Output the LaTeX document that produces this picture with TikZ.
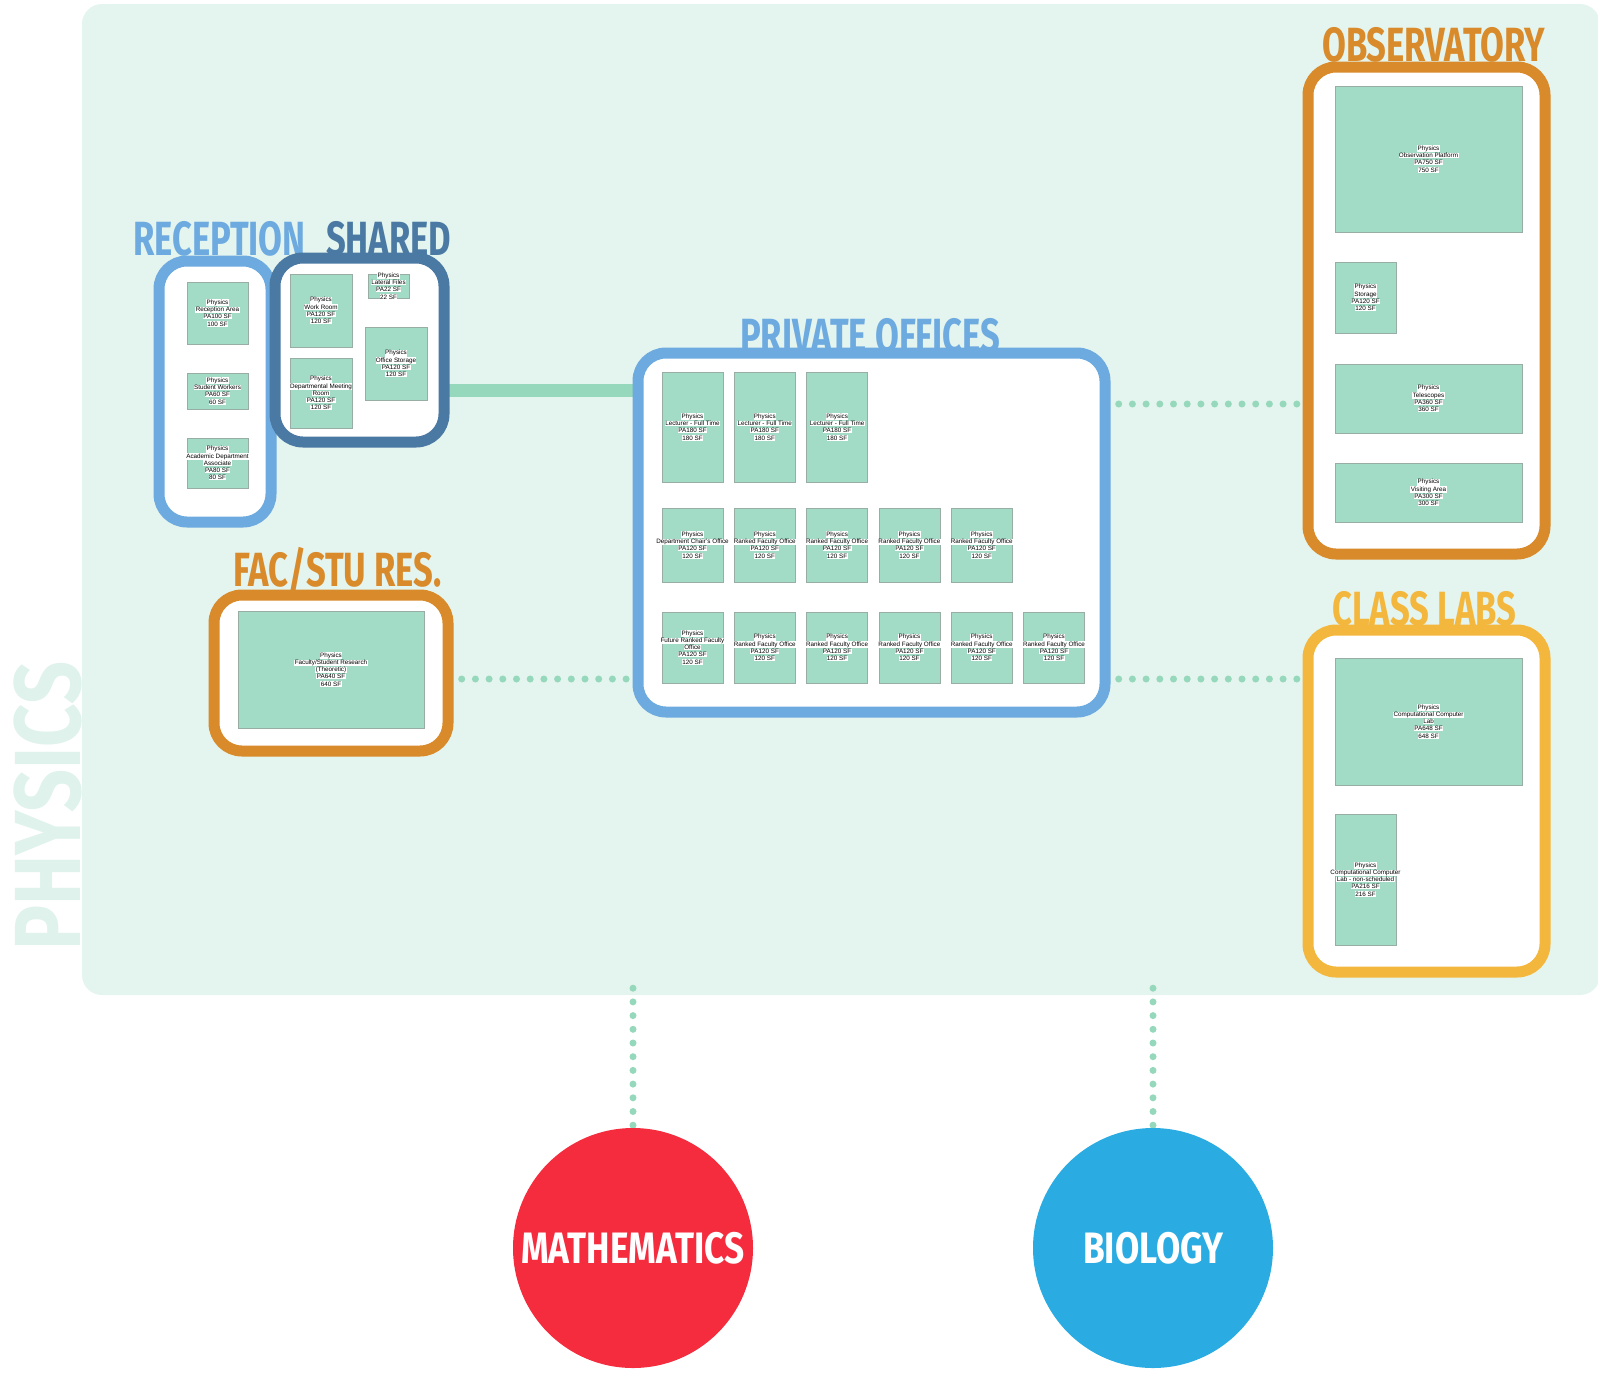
\documentclass[tikz,border=0pt]{standalone}
\usepackage{fontspec}
\setmainfont{Liberation Sans}
\newfontfamily\headfont[FakeStretch=0.72]{Fira Sans}
\newfontfamily\deptfont[FakeStretch=0.8]{Fira Sans}
\usetikzlibrary{chains,positioning}

\definecolor{panelmint}{HTML}{E4F4EE}
\definecolor{physmint}{HTML}{DFF2EB}
\definecolor{roommint}{HTML}{A2DCC6}
\definecolor{roomline}{HTML}{98ADA4}
\definecolor{linkmint}{HTML}{96D8BC}
\definecolor{zoneblue}{HTML}{6DAAE0}
\definecolor{zonesteel}{HTML}{4A79A3}
\definecolor{zoneorange}{HTML}{D98A2A}
\definecolor{zoneyellow}{HTML}{F4B73D}
\definecolor{mathred}{HTML}{F42C3E}
\definecolor{bioblue}{HTML}{2AACE2}

\pgfdeclarelayer{behind}
\pgfsetlayers{behind,main}

\setlength{\fboxsep}{0.4pt}
\newcommand{\hl}[1]{\colorbox{white}{#1}}
\newcommand{\spec}[2]{\hl{Physics}\\#1\\\hl{PA#2 SF}\\\hl{#2 SF}}

\tikzset{
    panel/.style = {
        fill = panelmint,
        rounded corners = 20pt,
        inner sep = 0pt,
        },
    zone/.style = {
        draw,
        line width = 11pt,
        rounded corners = 28pt,
        fill = white,
        inner sep = 0pt,
        outer sep = 0pt,
        },
    room/.style = {
        draw = roomline,
        line width = 0.8pt,
        fill = roommint,
        inner sep = 0pt,
        outer sep = 0pt,
        },
    office/.style = {
        room,
        minimum width = 61pt,
        on chain,
        },
    roomtext/.style = {
        font = \fontsize{6.3}{7.2}\selectfont,
        align = center,
        inner sep = 0pt,
        },
    zonetitle/.style = {
        font = \headfont\bfseries\fontsize{48}{48}\selectfont,
        inner sep = 0pt,
        anchor = base west,
        },
    solid link/.style = {
        draw = linkmint,
        line width = 13pt,
        },
    dot link/.style = {
        draw = linkmint,
        line width = 7pt,
        line cap = round,
        dash pattern = on 0pt off 13.7pt,
        },
    dept/.style = {
        circle,
        minimum size = 240pt,
        inner sep = 0pt,
        text = white,
        font = \deptfont\bfseries\fontsize{44}{44}\selectfont,
        }
}

\begin{document}
\begin{tikzpicture}[x=1pt, y=-1pt]
    \useasboundingbox (0,0) rectangle (1598,1374);

    \begin{pgfonlayer}{behind}
        \node [panel, minimum width=1518pt, minimum height=991pt] (physics) at (841,499.5) {};
        \node [rotate=90, text=physmint, inner sep=0pt,
               font=\deptfont\bfseries\fontsize{94}{94}\selectfont] (physlabel) at (47.5,806) {PHYSICS};

        \node [zonetitle, text=zoneblue] (receptiontitle) at (133,255) {RECEPTION};
        \node [zonetitle, text=zonesteel] (sharedtitle) at (326,255) {SHARED};
        \node [zonetitle, text=zoneblue] (privatetitle) at (740,352) {PRIVATE OFFICES};
        \node [zonetitle, text=zoneorange] (observtitle) at (1322,61) {OBSERVATORY};
        \node [zonetitle, text=zoneorange] (facstutitle) at (233,586) {FAC/STU RES.};
        \node [zonetitle, text=zoneyellow] (classlabtitle) at (1332,625) {CLASS LABS};
    \end{pgfonlayer}

    % zones
    \node [zone, draw=zoneblue, minimum width=112pt, minimum height=261pt] (reception) at (215,391.5) {};
    \node [zone, draw=zonesteel, minimum width=169pt, minimum height=184pt] (shared) at (359.5,350) {};
    \node [zone, draw=zoneblue, minimum width=467pt, minimum height=359pt] (private) at (871.5,532.5) {};
    \node [zone, draw=zoneorange, minimum width=234pt, minimum height=156pt] (facstu) at (331,673) {};
    \node [zone, draw=zoneorange, minimum width=237pt, minimum height=487pt] (observ) at (1426.5,310.5) {};
    \node [zone, draw=zoneyellow, minimum width=237pt, minimum height=342pt] (classlab) at (1426.5,801) {};

    % reception + shared
    \node [room, minimum width=61pt, minimum height=62pt,
           label={[roomtext]center:{\spec{\hl{Reception Area}}{100}}}] (recarea) at (217.5,313) {};
    \node [room, minimum width=61pt, minimum height=36pt,
           label={[roomtext]center:{\spec{\hl{Student Workers}}{60}}}] (stuwork) at (217.5,391) {};
    \node [room, minimum width=61pt, minimum height=50pt,
           label={[roomtext]center:{\spec{\hl{Academic Department}\\\hl{Associate}}{80}}}] (acadassoc) at (217.5,463) {};
    \node [room, minimum width=62pt, minimum height=73pt,
           label={[roomtext]center:{\spec{\hl{Work Room}}{120}}}] (workroom) at (321,310.5) {};
    \node [room, minimum width=62pt, minimum height=70pt,
           label={[roomtext]center:{\spec{\hl{Departmental Meeting}\\\hl{Room}}{120}}}] (meeting) at (321,393) {};
    \node [room, minimum width=41pt, minimum height=24pt,
           label={[roomtext]center:{\spec{\hl{Lateral Files}}{22}}}] (latfiles) at (388.5,286) {};
    \node [room, minimum width=62pt, minimum height=73pt,
           label={[roomtext]center:{\spec{\hl{Office Storage}}{120}}}] (offstore) at (396,363.5) {};

    % private offices
    \begin{scope}[start chain=going right, node distance=11.3pt]
        \node [office, minimum height=110pt, label={[roomtext]center:{\spec{\hl{Lecturer - Full Time}}{180}}}] (lect1) at (692.5,427) {};
        \node [office, minimum height=110pt, label={[roomtext]center:{\spec{\hl{Lecturer - Full Time}}{180}}}] (lect2) {};
        \node [office, minimum height=110pt, label={[roomtext]center:{\spec{\hl{Lecturer - Full Time}}{180}}}] (lect3) {};
    \end{scope}
    \begin{scope}[start chain=going right, node distance=11.3pt]
        \node [office, minimum height=74pt, label={[roomtext]center:{\spec{\hl{Department Chair's Office}}{120}}}] (chair) at (692.5,545) {};
        \node [office, minimum height=74pt, label={[roomtext]center:{\spec{\hl{Ranked Faculty Office}}{120}}}] (rank1) {};
        \node [office, minimum height=74pt, label={[roomtext]center:{\spec{\hl{Ranked Faculty Office}}{120}}}] (rank2) {};
        \node [office, minimum height=74pt, label={[roomtext]center:{\spec{\hl{Ranked Faculty Office}}{120}}}] (rank3) {};
        \node [office, minimum height=74pt, label={[roomtext]center:{\spec{\hl{Ranked Faculty Office}}{120}}}] (rank4) {};
    \end{scope}
    \begin{scope}[start chain=going right, node distance=11.3pt]
        \node [office, minimum height=71pt, label={[roomtext]center:{\spec{\hl{Future Ranked Faculty}\\\hl{Office}}{120}}}] (future) at (692.5,647.5) {};
        \node [office, minimum height=71pt, label={[roomtext]center:{\spec{\hl{Ranked Faculty Office}}{120}}}] (rank5) {};
        \node [office, minimum height=71pt, label={[roomtext]center:{\spec{\hl{Ranked Faculty Office}}{120}}}] (rank6) {};
        \node [office, minimum height=71pt, label={[roomtext]center:{\spec{\hl{Ranked Faculty Office}}{120}}}] (rank7) {};
        \node [office, minimum height=71pt, label={[roomtext]center:{\spec{\hl{Ranked Faculty Office}}{120}}}] (rank8) {};
        \node [office, minimum height=71pt, label={[roomtext]center:{\spec{\hl{Ranked Faculty Office}}{120}}}] (rank9) {};
    \end{scope}

    % observatory, class labs, research
    \node [room, minimum width=187pt, minimum height=146pt,
           label={[roomtext]center:{\spec{\hl{Observation Platform}}{750}}}] (obsplat) at (1428.5,159) {};
    \node [room, minimum width=61pt, minimum height=71pt,
           label={[roomtext]center:{\spec{\hl{Storage}}{120}}}] (obsstore) at (1365.5,297.5) {};
    \node [room, minimum width=187pt, minimum height=69pt,
           label={[roomtext]center:{\spec{\hl{Telescopes}}{360}}}] (telescopes) at (1428.5,398.5) {};
    \node [room, minimum width=187pt, minimum height=59pt,
           label={[roomtext]center:{\spec{\hl{Visiting Area}}{300}}}] (visiting) at (1428.5,492.5) {};
    \node [room, minimum width=187pt, minimum height=127pt,
           label={[roomtext]center:{\spec{\hl{Computational Computer}\\\hl{Lab}}{648}}}] (complab) at (1428.5,721.5) {};
    \node [room, minimum width=61pt, minimum height=131pt,
           label={[roomtext]center:{\spec{\hl{Computational Computer}\\\hl{Lab - non-scheduled}}{216}}}] (complabns) at (1365.5,879.5) {};
    \node [room, minimum width=186pt, minimum height=117pt,
           label={[roomtext]center:{\spec{\hl{Faculty/Student Research}\\\hl{(Theoretic)}}{640}}}] (facres) at (331,669.5) {};

    \node [dept, fill=mathred] (math) at (633,1248) {MATHEMATICS};
    \node [dept, fill=bioblue] (bio) at (1153,1248) {BIOLOGY};

    \coordinate (upper) at (0,404);
    \coordinate (lower) at (0,679);
    \coordinate (spine) at (0,390);

    \begin{pgfonlayer}{behind}
        \draw [solid link] (shared.east |- spine) -- (private.west |- spine);
        \draw [dot link] (private.east |- upper) -- (observ.west |- upper);
        \draw [dot link] (facstu.east |- lower) -- (private.west |- lower);
        \draw [dot link] (private.east |- lower) -- (classlab.west |- lower);
        \draw [dot link] (math.north |- physics.south) ++(0,-7) -- (math.north);
        \draw [dot link] (bio.north |- physics.south) ++(0,-7) -- (bio.north);
    \end{pgfonlayer}
\end{tikzpicture}
\end{document}
